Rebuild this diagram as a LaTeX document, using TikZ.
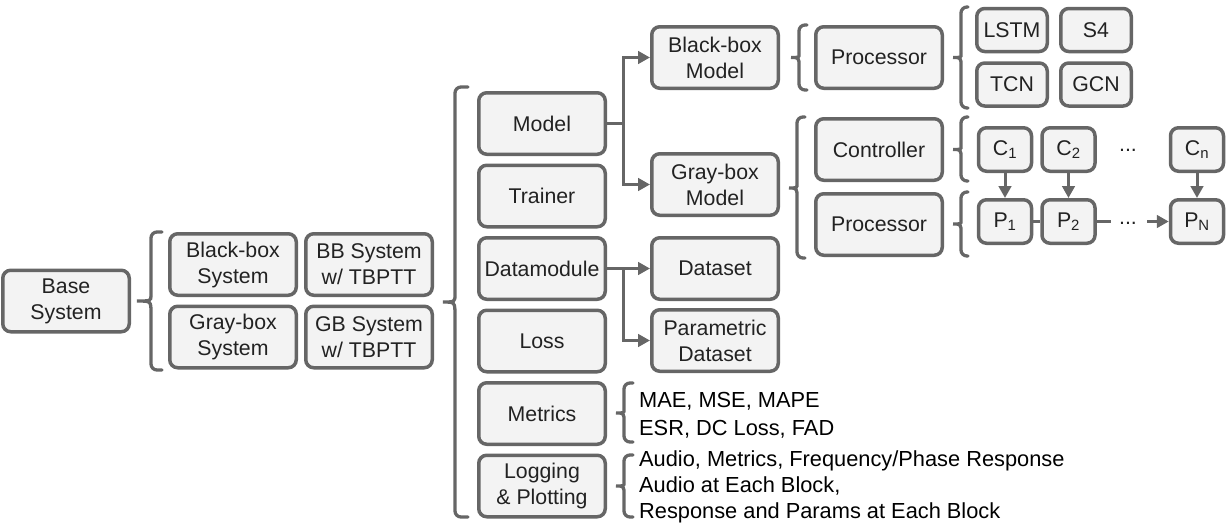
\documentclass[tikz,border=0pt]{standalone}
\usepackage{fontspec}
\setmainfont{Liberation Sans}
\usetikzlibrary{arrows.meta}
\definecolor{edge}{HTML}{666666}
\definecolor{boxfill}{HTML}{F3F3F3}
\definecolor{ink}{HTML}{222222}
\newcommand\lbl{\fontsize{21.3}{26}\selectfont}
\newcommand\lst{\fontsize{21.8}{26}\selectfont}
% curly bracket opening to the right: hook x, spine x, tip x, top y, bottom y, tip y, bend length
\newcommand\curly[7]{%
  \draw[brc] (#1,#4) [rounded corners=6pt] -- (#2,#4) -- (#2,#6-#7) [sharp corners]
    .. controls (#2,#6) and (#2,#6) .. (#3,#6)
    .. controls (#2,#6) and (#2,#6) .. (#2,#6+#7) [rounded corners=6pt]
    -- (#2,#5) -- (#1,#5);}
\tikzset{
  box/.style={draw=edge, fill=boxfill, line width=3.5pt, rounded corners=8pt,
    align=center, inner sep=0pt, font=\lbl, text=ink},
  wide/.style={box, minimum width=126.5pt, minimum height=61.5pt},
  small/.style={box, minimum width=70.5pt, minimum height=43pt},
  tiny/.style={box, minimum width=53pt, minimum height=43.5pt},
  brc/.style={draw=edge, line width=3.3pt, line cap=round},
  conn/.style={draw=edge, line width=3pt, -{Triangle[length=12pt,width=12.5pt]}},
  plain/.style={draw=edge, line width=3pt},
  item/.style={anchor=base west, inner sep=0pt, font=\lst, text=black},
  dots/.style={inner sep=0pt, font=\lbl, text=ink}
}
\begin{document}
\begin{tikzpicture}[x=1pt, y=-1pt]
\useasboundingbox (0,0) rectangle (1227,530);

% system variants
\node[wide] (base) at (66,301) {Base\\System};
\node[wide] (bbsys) at (233,264.5) {Black-box\\System};
\node[wide] (bbt) at (369,264.5) {BB System\\w/ TBPTT};
\node[wide] (gbsys) at (233,337) {Gray-box\\System};
\node[wide] (gbt) at (369,337) {GB System\\w/ TBPTT};

% components of a system
\node[wide] (model) at (542,123.5) {Model};
\node[wide] (trainer) at (542,196) {Trainer};
\node[wide] (datamod) at (542,268.5) {Datamodule};
\node[wide] (loss) at (542,341) {Loss};
\node[wide] (metrics) at (542,413.5) {Metrics};
\node[wide] (logging) at (542,486) {Logging\\\& Plotting};

% models and datasets
\node[wide] (bbmodel) at (715,57.5) {Black-box\\Model};
\node[wide] (gbmodel) at (715,184.5) {Gray-box\\Model};
\node[wide] (dataset) at (715,268.5) {Dataset};
\node[wide] (pdataset) at (715,340.5) {Parametric\\Dataset};

% model internals
\node[wide] (bbproc) at (879,57.5) {Processor};
\node[wide] (ctrl) at (879,149.5) {Controller};
\node[wide] (gbproc) at (879,224.5) {Processor};

\node[small] (lstm) at (1012,30) {LSTM};
\node[small] (s4) at (1096,30) {S4};
\node[small] (tcn) at (1012,84.5) {TCN};
\node[small] (gcn) at (1096,84.5) {GCN};

\node[tiny] (c1) at (1005,149.5) {C\textsubscript{1}};
\node[tiny] (c2) at (1068.5,149.5) {C\textsubscript{2}};
\node[tiny] (cn) at (1197,149.5) {C\textsubscript{n}};
\node[tiny] (p1) at (1005,221.5) {P\textsubscript{1}};
\node[tiny] (p2) at (1068.5,221.5) {P\textsubscript{2}};
\node[tiny] (pn) at (1197,221.5) {P\textsubscript{N}};
\node[dots] (cdots) at (1128,150) {...};
\node[dots] (pdots) at (1128,223) {...};
\coordinate (pa) at (1111,221.5);
\coordinate (pb) at (1147,221.5);

% metric and logging lists
\node[item] (m1) at (639,407) {MAE, MSE, MAPE};
\node[item] (m2) at (639,435) {ESR, DC Loss, FAD};
\node[item] (l1) at (639,466.5) {Audio, Metrics, Frequency/Phase Response};
\node[item] (l2) at (639,492.5) {Audio at Each Block,};
\node[item] (l3) at (639,518.5) {Response and Params at Each Block};

% brackets
\curly{162}{151}{137}{232}{370}{301}{12}
\curly{468}{455}{443}{87}{517}{302}{14}
\curly{807}{799}{791}{25}{90}{57.5}{9}
\curly{968}{961}{953}{7}{108}{57.5}{9}
\curly{805}{797}{789}{117}{258}{188}{10}
\curly{968}{961}{953}{117}{181}{149.5}{9}
\curly{968}{961}{953}{192}{256}{224}{9}
\curly{633}{624}{616}{383}{442}{413}{9}
\curly{633}{624}{616}{455}{517}{486}{9}

% connectors
\draw[conn] (model.east) -- ++(16,0) |- (bbmodel.west);
\draw[conn] (model.east) -- ++(16,0) |- (gbmodel.west);
\draw[conn] (datamod.east) -- (dataset.west);
\draw[conn] (datamod.east) -- ++(16,0) |- (pdataset.west);

\draw[conn] (c1) -- (p1);
\draw[conn] (c2) -- (p2);
\draw[conn] (cn) -- (pn);
\draw[plain] (p1) -- (p2);
\draw[plain] (p2.east) -- (pa);
\draw[conn] (pb) -- (pn.west);
\end{tikzpicture}
\end{document}
